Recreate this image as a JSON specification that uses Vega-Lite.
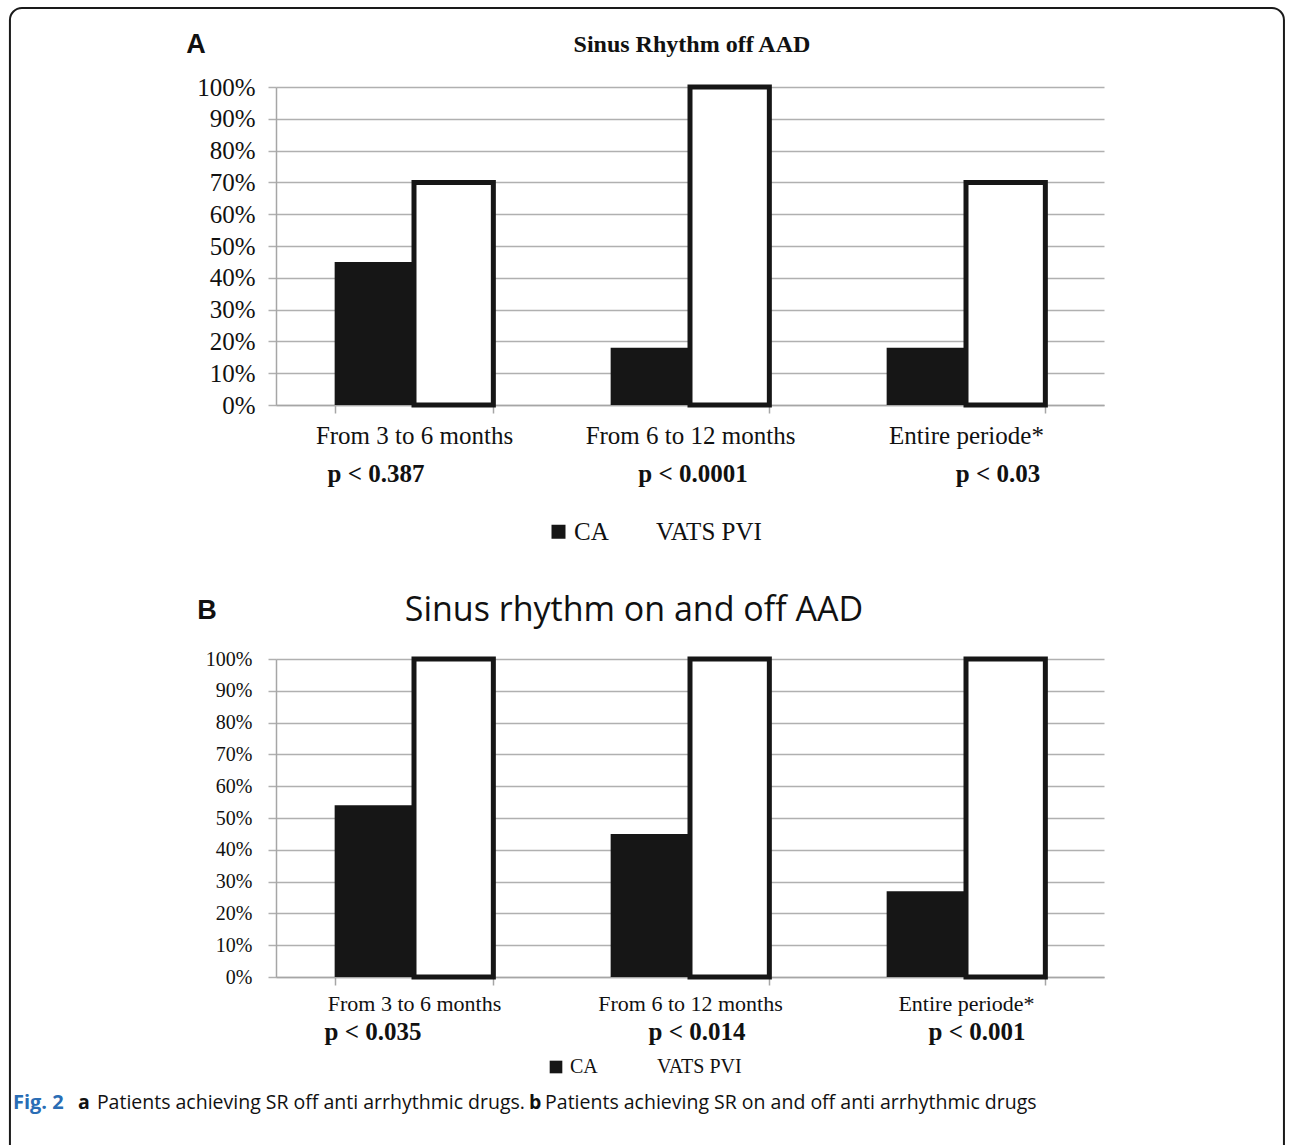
{
  "$schema": "https://vega.github.io/schema/vega-lite/v6.json",
  "background": "white",
  "padding": {"left": 8, "top": 7, "right": 0, "bottom": 0},
  "bounds": "flush",
  "spacing": 254,
  "datasets": {
    "off": [
      {"period": "From 3 to 6 months", "group": "CA", "value": 0.45},
      {"period": "From 3 to 6 months", "group": "VATS PVI", "value": 0.70},
      {"period": "From 6 to 12 months", "group": "CA", "value": 0.18},
      {"period": "From 6 to 12 months", "group": "VATS PVI", "value": 1.00},
      {"period": "Entire periode*", "group": "CA", "value": 0.18},
      {"period": "Entire periode*", "group": "VATS PVI", "value": 0.70}
    ],
    "onoff": [
      {"period": "From 3 to 6 months", "group": "CA", "value": 0.54},
      {"period": "From 3 to 6 months", "group": "VATS PVI", "value": 1.00},
      {"period": "From 6 to 12 months", "group": "CA", "value": 0.45},
      {"period": "From 6 to 12 months", "group": "VATS PVI", "value": 1.00},
      {"period": "Entire periode*", "group": "CA", "value": 0.27},
      {"period": "Entire periode*", "group": "VATS PVI", "value": 1.00}
    ],
    "pOff": [
      {"period": "From 3 to 6 months", "p": "p < 0.387"},
      {"period": "From 6 to 12 months", "p": "p < 0.0001"},
      {"period": "Entire periode*", "p": "p < 0.03"}
    ],
    "pOnOff": [
      {"period": "From 3 to 6 months", "p": "p < 0.035"},
      {"period": "From 6 to 12 months", "p": "p < 0.014"},
      {"period": "Entire periode*", "p": "p < 0.001"}
    ],
    "one": [{}]
  },
  "resolve": {"scale": {"fill": "independent"}, "legend": {"fill": "independent"}},
  "vconcat": [
    {
      "width": 828,
      "height": 318,
      "resolve": {"scale": {"x": "independent"}},
      "layer": [
        {
          "layer": [
            {
              "data": {"name": "off"},
              "mark": {"type": "bar", "stroke": "#161616"},
              "encoding": {
                "x": {"field": "period", "type": "nominal", "sort": null,
                  "scale": {"domain": ["From 3 to 6 months", "From 6 to 12 months", "Entire periode*"], "paddingInner": 0.425, "paddingOuter": 0.2125},
                  "axis": {"title": null, "labelAngle": 0, "labelLimit": 400, "domainColor": "#a6a6a6", "domainWidth": 1.5, "tickColor": "#a6a6a6", "tickWidth": 1.5, "tickSize": 8, "tickBand": "extent", "labelFont": "Liberation Serif", "labelFontSize": 25, "labelColor": "#111111", "labelPadding": 10, "grid": false}},
                "xOffset": {"field": "group", "type": "nominal", "scale": {"domain": ["CA", "VATS PVI"], "paddingInner": 0, "paddingOuter": 0}},
                "y": {"field": "value", "type": "quantitative", "scale": {"domain": [0, 1], "nice": false},
                  "axis": {"title": null, "values": [0, 0.1, 0.2, 0.3, 0.4, 0.5, 0.6, 0.7, 0.8, 0.9, 1], "format": ".0%", "labelOverlap": false, "grid": true, "gridColor": "#b0b0b0", "gridWidth": 1.5, "domainColor": "#a6a6a6", "domainWidth": 1.5, "tickColor": "#b0b0b0", "tickWidth": 1.5, "tickSize": 8, "labelFont": "Liberation Serif", "labelFontSize": 25, "labelColor": "#111111", "labelPadding": 13}},
                "fill": {"field": "group", "type": "nominal", "scale": {"domain": ["CA", "VATS PVI"], "range": ["#161616", "#ffffff"]},
                  "legend": {"title": null, "orient": "none", "legendX": 270, "legendY": 432, "direction": "horizontal", "symbolType": "square", "symbolSize": 196, "symbolStrokeWidth": 0, "labelFont": "Liberation Serif", "labelFontSize": 25, "labelColor": "#111111", "columnPadding": 19, "labelOffset": 3}},
                "strokeWidth": {"condition": {"test": "datum.group === 'VATS PVI'", "value": 5}, "value": 0}
              }
            },
            {
              "data": {"name": "pOff"},
              "transform": [{"filter": "datum.period === 'From 3 to 6 months'"}],
              "mark": {"type": "text", "font": "Liberation Serif", "fontSize": 25, "fontWeight": "bold", "color": "#111111", "dx": -38, "baseline": "middle"},
              "encoding": {"x": {"field": "period", "type": "nominal"}, "y": {"datum": -0.217, "type": "quantitative", "axis": {"title": null, "values": [0, 0.1, 0.2, 0.3, 0.4, 0.5, 0.6, 0.7, 0.8, 0.9, 1], "format": ".0%", "labelOverlap": false, "grid": true, "gridColor": "#b0b0b0", "gridWidth": 1.5, "domainColor": "#a6a6a6", "domainWidth": 1.5, "tickColor": "#b0b0b0", "tickWidth": 1.5, "tickSize": 8, "labelFont": "Liberation Serif", "labelFontSize": 25, "labelColor": "#111111", "labelPadding": 13}}, "text": {"field": "p"}}
            },
            {
              "data": {"name": "pOff"},
              "transform": [{"filter": "datum.period === 'From 6 to 12 months'"}],
              "mark": {"type": "text", "font": "Liberation Serif", "fontSize": 25, "fontWeight": "bold", "color": "#111111", "dx": 3, "baseline": "middle"},
              "encoding": {"x": {"field": "period", "type": "nominal"}, "y": {"datum": -0.217, "type": "quantitative", "axis": {"title": null, "values": [0, 0.1, 0.2, 0.3, 0.4, 0.5, 0.6, 0.7, 0.8, 0.9, 1], "format": ".0%", "labelOverlap": false, "grid": true, "gridColor": "#b0b0b0", "gridWidth": 1.5, "domainColor": "#a6a6a6", "domainWidth": 1.5, "tickColor": "#b0b0b0", "tickWidth": 1.5, "tickSize": 8, "labelFont": "Liberation Serif", "labelFontSize": 25, "labelColor": "#111111", "labelPadding": 13}}, "text": {"field": "p"}}
            },
            {
              "data": {"name": "pOff"},
              "transform": [{"filter": "datum.period === 'Entire periode*'"}],
              "mark": {"type": "text", "font": "Liberation Serif", "fontSize": 25, "fontWeight": "bold", "color": "#111111", "dx": 32, "baseline": "middle"},
              "encoding": {"x": {"field": "period", "type": "nominal"}, "y": {"datum": -0.217, "type": "quantitative", "axis": {"title": null, "values": [0, 0.1, 0.2, 0.3, 0.4, 0.5, 0.6, 0.7, 0.8, 0.9, 1], "format": ".0%", "labelOverlap": false, "grid": true, "gridColor": "#b0b0b0", "gridWidth": 1.5, "domainColor": "#a6a6a6", "domainWidth": 1.5, "tickColor": "#b0b0b0", "tickWidth": 1.5, "tickSize": 8, "labelFont": "Liberation Serif", "labelFontSize": 25, "labelColor": "#111111", "labelPadding": 13}}, "text": {"field": "p"}}
            }
          ]
        },
        {
          "data": {"name": "one"},
          "layer": [
            {
              "mark": {"type": "rect", "fill": null, "fillOpacity": 0, "stroke": "#1a1a1a", "strokeWidth": 2, "cornerRadius": 12},
              "encoding": {
                "x": {"datum": -0.964, "type": "quantitative", "scale": {"domain": [0, 3], "nice": false, "zero": false}, "axis": null},
                "x2": {"datum": 3.652},
                "y": {"datum": 1.2484, "type": "quantitative", "axis": {"title": null, "values": [0, 0.1, 0.2, 0.3, 0.4, 0.5, 0.6, 0.7, 0.8, 0.9, 1], "format": ".0%", "labelOverlap": false, "grid": true, "gridColor": "#b0b0b0", "gridWidth": 1.5, "domainColor": "#a6a6a6", "domainWidth": 1.5, "tickColor": "#b0b0b0", "tickWidth": 1.5, "tickSize": 8, "labelFont": "Liberation Serif", "labelFontSize": 25, "labelColor": "#111111", "labelPadding": 13}},
                "y2": {"datum": -2.6}
              }
            },
            {
              "mark": {"type": "text", "text": "A", "font": "Liberation Sans", "fontSize": 27, "fontWeight": "bold", "color": "#111111", "baseline": "middle"},
              "encoding": {
                "x": {"datum": -0.29, "type": "quantitative", "scale": {"domain": [0, 3], "nice": false, "zero": false}, "axis": null},
                "y": {"datum": 1.132, "type": "quantitative", "axis": {"title": null, "values": [0, 0.1, 0.2, 0.3, 0.4, 0.5, 0.6, 0.7, 0.8, 0.9, 1], "format": ".0%", "labelOverlap": false, "grid": true, "gridColor": "#b0b0b0", "gridWidth": 1.5, "domainColor": "#a6a6a6", "domainWidth": 1.5, "tickColor": "#b0b0b0", "tickWidth": 1.5, "tickSize": 8, "labelFont": "Liberation Serif", "labelFontSize": 25, "labelColor": "#111111", "labelPadding": 13}}
              }
            },
            {
              "mark": {"type": "text", "text": "Sinus Rhythm off AAD", "font": "Liberation Serif", "fontSize": 24, "fontWeight": "bold", "color": "#111111", "baseline": "middle"},
              "encoding": {
                "x": {"datum": 1.507, "type": "quantitative", "scale": {"domain": [0, 3], "nice": false, "zero": false}, "axis": null},
                "y": {"datum": 1.132, "type": "quantitative", "axis": {"title": null, "values": [0, 0.1, 0.2, 0.3, 0.4, 0.5, 0.6, 0.7, 0.8, 0.9, 1], "format": ".0%", "labelOverlap": false, "grid": true, "gridColor": "#b0b0b0", "gridWidth": 1.5, "domainColor": "#a6a6a6", "domainWidth": 1.5, "tickColor": "#b0b0b0", "tickWidth": 1.5, "tickSize": 8, "labelFont": "Liberation Serif", "labelFontSize": 25, "labelColor": "#111111", "labelPadding": 13}}
              }
            }
          ]
        }
      ]
    },
    {
      "width": 828,
      "height": 318,
      "resolve": {"scale": {"x": "independent"}},
      "layer": [
        {
          "layer": [
            {
              "data": {"name": "onoff"},
              "mark": {"type": "bar", "stroke": "#161616"},
              "encoding": {
                "x": {"field": "period", "type": "nominal", "sort": null,
                  "scale": {"domain": ["From 3 to 6 months", "From 6 to 12 months", "Entire periode*"], "paddingInner": 0.425, "paddingOuter": 0.2125},
                  "axis": {"title": null, "labelAngle": 0, "labelLimit": 400, "domainColor": "#a6a6a6", "domainWidth": 1.5, "tickColor": "#a6a6a6", "tickWidth": 1.5, "tickSize": 8, "tickBand": "extent", "labelFont": "Liberation Serif", "labelFontSize": 22, "labelColor": "#111111", "labelPadding": 8, "grid": false}},
                "xOffset": {"field": "group", "type": "nominal", "scale": {"domain": ["CA", "VATS PVI"], "paddingInner": 0, "paddingOuter": 0}},
                "y": {"field": "value", "type": "quantitative", "scale": {"domain": [0, 1], "nice": false},
                  "axis": {"title": null, "values": [0, 0.1, 0.2, 0.3, 0.4, 0.5, 0.6, 0.7, 0.8, 0.9, 1], "format": ".0%", "labelOverlap": false, "grid": true, "gridColor": "#b0b0b0", "gridWidth": 1.5, "domainColor": "#a6a6a6", "domainWidth": 1.5, "tickColor": "#b0b0b0", "tickWidth": 1.5, "tickSize": 8, "labelFont": "Liberation Serif", "labelFontSize": 20, "labelColor": "#111111", "labelPadding": 16}},
                "fill": {"field": "group", "type": "nominal", "scale": {"domain": ["CA", "VATS PVI"], "range": ["#161616", "#ffffff"]},
                  "legend": {"title": null, "orient": "none", "legendX": 270, "legendY": 398, "direction": "horizontal", "symbolType": "square", "symbolSize": 160, "symbolStrokeWidth": 0, "labelFont": "Liberation Serif", "labelFontSize": 20, "labelColor": "#111111", "columnPadding": 35, "labelOffset": 4}},
                "strokeWidth": {"condition": {"test": "datum.group === 'VATS PVI'", "value": 5}, "value": 0}
              }
            },
            {
              "data": {"name": "pOnOff"},
              "transform": [{"filter": "datum.period === 'From 3 to 6 months'"}],
              "mark": {"type": "text", "font": "Liberation Serif", "fontSize": 25, "fontWeight": "bold", "color": "#111111", "dx": -41, "baseline": "middle"},
              "encoding": {"x": {"field": "period", "type": "nominal"}, "y": {"datum": -0.173, "type": "quantitative", "axis": {"title": null, "values": [0, 0.1, 0.2, 0.3, 0.4, 0.5, 0.6, 0.7, 0.8, 0.9, 1], "format": ".0%", "labelOverlap": false, "grid": true, "gridColor": "#b0b0b0", "gridWidth": 1.5, "domainColor": "#a6a6a6", "domainWidth": 1.5, "tickColor": "#b0b0b0", "tickWidth": 1.5, "tickSize": 8, "labelFont": "Liberation Serif", "labelFontSize": 20, "labelColor": "#111111", "labelPadding": 16}}, "text": {"field": "p"}}
            },
            {
              "data": {"name": "pOnOff"},
              "transform": [{"filter": "datum.period === 'From 6 to 12 months'"}],
              "mark": {"type": "text", "font": "Liberation Serif", "fontSize": 25, "fontWeight": "bold", "color": "#111111", "dx": 7, "baseline": "middle"},
              "encoding": {"x": {"field": "period", "type": "nominal"}, "y": {"datum": -0.173, "type": "quantitative", "axis": {"title": null, "values": [0, 0.1, 0.2, 0.3, 0.4, 0.5, 0.6, 0.7, 0.8, 0.9, 1], "format": ".0%", "labelOverlap": false, "grid": true, "gridColor": "#b0b0b0", "gridWidth": 1.5, "domainColor": "#a6a6a6", "domainWidth": 1.5, "tickColor": "#b0b0b0", "tickWidth": 1.5, "tickSize": 8, "labelFont": "Liberation Serif", "labelFontSize": 20, "labelColor": "#111111", "labelPadding": 16}}, "text": {"field": "p"}}
            },
            {
              "data": {"name": "pOnOff"},
              "transform": [{"filter": "datum.period === 'Entire periode*'"}],
              "mark": {"type": "text", "font": "Liberation Serif", "fontSize": 25, "fontWeight": "bold", "color": "#111111", "dx": 11, "baseline": "middle"},
              "encoding": {"x": {"field": "period", "type": "nominal"}, "y": {"datum": -0.173, "type": "quantitative", "axis": {"title": null, "values": [0, 0.1, 0.2, 0.3, 0.4, 0.5, 0.6, 0.7, 0.8, 0.9, 1], "format": ".0%", "labelOverlap": false, "grid": true, "gridColor": "#b0b0b0", "gridWidth": 1.5, "domainColor": "#a6a6a6", "domainWidth": 1.5, "tickColor": "#b0b0b0", "tickWidth": 1.5, "tickSize": 8, "labelFont": "Liberation Serif", "labelFontSize": 20, "labelColor": "#111111", "labelPadding": 16}}, "text": {"field": "p"}}
            }
          ]
        },
        {
          "data": {"name": "one"},
          "layer": [
            {
              "mark": {"type": "text", "text": "B", "font": "Liberation Sans", "fontSize": 27, "fontWeight": "bold", "color": "#111111", "baseline": "middle"},
              "encoding": {
                "x": {"datum": -0.25, "type": "quantitative", "scale": {"domain": [0, 3], "nice": false, "zero": false}, "axis": null},
                "y": {"datum": 1.151, "type": "quantitative", "axis": {"title": null, "values": [0, 0.1, 0.2, 0.3, 0.4, 0.5, 0.6, 0.7, 0.8, 0.9, 1], "format": ".0%", "labelOverlap": false, "grid": true, "gridColor": "#b0b0b0", "gridWidth": 1.5, "domainColor": "#a6a6a6", "domainWidth": 1.5, "tickColor": "#b0b0b0", "tickWidth": 1.5, "tickSize": 8, "labelFont": "Liberation Serif", "labelFontSize": 20, "labelColor": "#111111", "labelPadding": 16}}
              }
            },
            {
              "mark": {"type": "text", "text": "Sinus rhythm on and off AAD", "font": "Open Sans", "fontSize": 34, "color": "#111111", "baseline": "middle"},
              "encoding": {
                "x": {"datum": 1.297, "type": "quantitative", "scale": {"domain": [0, 3], "nice": false, "zero": false}, "axis": null},
                "y": {"datum": 1.151, "type": "quantitative", "axis": {"title": null, "values": [0, 0.1, 0.2, 0.3, 0.4, 0.5, 0.6, 0.7, 0.8, 0.9, 1], "format": ".0%", "labelOverlap": false, "grid": true, "gridColor": "#b0b0b0", "gridWidth": 1.5, "domainColor": "#a6a6a6", "domainWidth": 1.5, "tickColor": "#b0b0b0", "tickWidth": 1.5, "tickSize": 8, "labelFont": "Liberation Serif", "labelFontSize": 20, "labelColor": "#111111", "labelPadding": 16}}
              }
            },
            {
              "mark": {"type": "text", "text": "Fig. 2", "font": "Open Sans", "fontSize": 20, "fontWeight": "bold", "color": "#2a6db5", "align": "left", "baseline": "middle"},
              "encoding": {
                "x": {"datum": -0.953, "type": "quantitative", "scale": {"domain": [0, 3], "nice": false, "zero": false}, "axis": null},
                "y": {"datum": -0.396, "type": "quantitative", "axis": {"title": null, "values": [0, 0.1, 0.2, 0.3, 0.4, 0.5, 0.6, 0.7, 0.8, 0.9, 1], "format": ".0%", "labelOverlap": false, "grid": true, "gridColor": "#b0b0b0", "gridWidth": 1.5, "domainColor": "#a6a6a6", "domainWidth": 1.5, "tickColor": "#b0b0b0", "tickWidth": 1.5, "tickSize": 8, "labelFont": "Liberation Serif", "labelFontSize": 20, "labelColor": "#111111", "labelPadding": 16}}
              }
            },
            {
              "mark": {"type": "text", "text": "a", "font": "Open Sans", "fontSize": 19.5, "fontWeight": "bold", "color": "#111111", "align": "left", "baseline": "middle"},
              "encoding": {
                "x": {"datum": -0.717, "type": "quantitative", "scale": {"domain": [0, 3], "nice": false, "zero": false}, "axis": null},
                "y": {"datum": -0.396, "type": "quantitative", "axis": {"title": null, "values": [0, 0.1, 0.2, 0.3, 0.4, 0.5, 0.6, 0.7, 0.8, 0.9, 1], "format": ".0%", "labelOverlap": false, "grid": true, "gridColor": "#b0b0b0", "gridWidth": 1.5, "domainColor": "#a6a6a6", "domainWidth": 1.5, "tickColor": "#b0b0b0", "tickWidth": 1.5, "tickSize": 8, "labelFont": "Liberation Serif", "labelFontSize": 20, "labelColor": "#111111", "labelPadding": 16}}
              }
            },
            {
              "mark": {"type": "text", "text": "Patients achieving SR off anti arrhythmic drugs.", "font": "Open Sans", "fontSize": 19.5, "color": "#111111", "align": "left", "baseline": "middle"},
              "encoding": {
                "x": {"datum": -0.649, "type": "quantitative", "scale": {"domain": [0, 3], "nice": false, "zero": false}, "axis": null},
                "y": {"datum": -0.396, "type": "quantitative", "axis": {"title": null, "values": [0, 0.1, 0.2, 0.3, 0.4, 0.5, 0.6, 0.7, 0.8, 0.9, 1], "format": ".0%", "labelOverlap": false, "grid": true, "gridColor": "#b0b0b0", "gridWidth": 1.5, "domainColor": "#a6a6a6", "domainWidth": 1.5, "tickColor": "#b0b0b0", "tickWidth": 1.5, "tickSize": 8, "labelFont": "Liberation Serif", "labelFontSize": 20, "labelColor": "#111111", "labelPadding": 16}}
              }
            },
            {
              "mark": {"type": "text", "text": "b", "font": "Open Sans", "fontSize": 19.5, "fontWeight": "bold", "color": "#111111", "align": "left", "baseline": "middle"},
              "encoding": {
                "x": {"datum": 0.917, "type": "quantitative", "scale": {"domain": [0, 3], "nice": false, "zero": false}, "axis": null},
                "y": {"datum": -0.396, "type": "quantitative", "axis": {"title": null, "values": [0, 0.1, 0.2, 0.3, 0.4, 0.5, 0.6, 0.7, 0.8, 0.9, 1], "format": ".0%", "labelOverlap": false, "grid": true, "gridColor": "#b0b0b0", "gridWidth": 1.5, "domainColor": "#a6a6a6", "domainWidth": 1.5, "tickColor": "#b0b0b0", "tickWidth": 1.5, "tickSize": 8, "labelFont": "Liberation Serif", "labelFontSize": 20, "labelColor": "#111111", "labelPadding": 16}}
              }
            },
            {
              "mark": {"type": "text", "text": "Patients achieving SR on and off anti arrhythmic drugs", "font": "Open Sans", "fontSize": 19.5, "color": "#111111", "align": "left", "baseline": "middle"},
              "encoding": {
                "x": {"datum": 0.975, "type": "quantitative", "scale": {"domain": [0, 3], "nice": false, "zero": false}, "axis": null},
                "y": {"datum": -0.396, "type": "quantitative", "axis": {"title": null, "values": [0, 0.1, 0.2, 0.3, 0.4, 0.5, 0.6, 0.7, 0.8, 0.9, 1], "format": ".0%", "labelOverlap": false, "grid": true, "gridColor": "#b0b0b0", "gridWidth": 1.5, "domainColor": "#a6a6a6", "domainWidth": 1.5, "tickColor": "#b0b0b0", "tickWidth": 1.5, "tickSize": 8, "labelFont": "Liberation Serif", "labelFontSize": 20, "labelColor": "#111111", "labelPadding": 16}}
              }
            }
          ]
        }
      ]
    }
  ],
  "config": {"view": {"stroke": null}, "axisY": {"labelOverlap": false}}
}
